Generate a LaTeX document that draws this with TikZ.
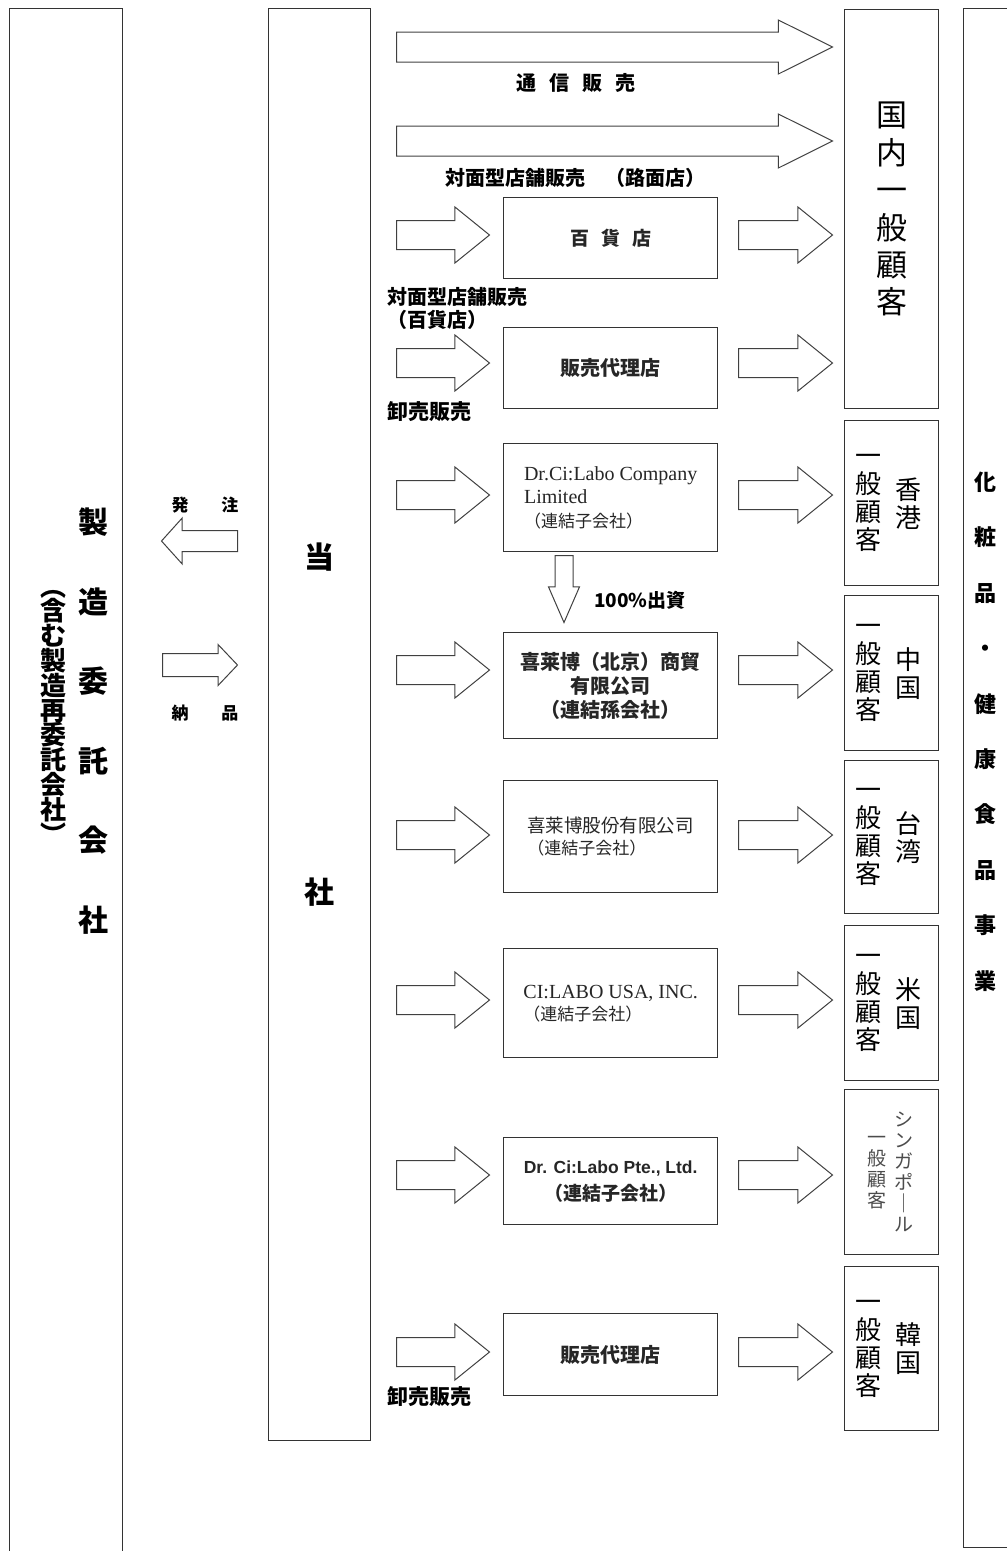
\documentclass[tikz,border=0pt]{standalone}
\usepackage{fontspec}
\setmainfont{Liberation Serif}
\setsansfont{Liberation Sans}
\newfontfamily\cjk{Noto Sans CJK JP}
\usetikzlibrary{shapes.arrows}

\tikzset{
  frame/.style={draw=black!80, line width=1.4pt, inner sep=0pt, anchor=north west},
  mbox/.style={frame, minimum width=214pt, text=black!85},
  cbox/.style={frame, minimum width=94pt},
  barrow/.style={single arrow, draw=black!75, line width=1pt, inner xsep=0pt, inner ysep=14pt,
    anchor=tail, minimum height=93pt, minimum width=55pt, single arrow head extend=13.5pt,
    single arrow tip angle=78},
  longarrow/.style={barrow, minimum height=436pt, minimum width=53pt, inner ysep=14.5pt,
    single arrow head extend=12pt, single arrow tip angle=53},
  lbl/.style={font=\cjk\bfseries\fontsize{20}{23}\selectfont, inner sep=0pt},
  vcol/.style={font=\cjk\fontsize{26}{28}\selectfont, align=center, inner sep=0pt},
  scol/.style={font=\cjk\fontsize{19}{21}\selectfont, align=center, inner sep=0pt, text=black!70},
  bigv/.style={font=\cjk\bfseries\fontsize{30}{79.6}\selectfont, align=center, inner sep=0pt},
}

\begin{document}
\begin{tikzpicture}[x=1pt, y=-1pt]
  \useasboundingbox (0,0) rectangle (1007,1551);
  \clip (0,0) rectangle (1007,1551);

  % outer columns
  \node[frame, minimum width=113pt, minimum height=1552pt] (maker) at (9,8) {};
  \node[frame, minimum width=102pt, minimum height=1432pt,
        font=\cjk\bfseries\fontsize{30}{335}\selectfont, align=center] (tosha) at (268,8) {当\\社};
  \node[frame, minimum width=52pt, minimum height=1539pt] (biz) at (963,8) {};

  % maker texts
  \node[bigv] (makername) at (93,721) {製\\造\\委\\託\\会\\社};
  \node[bigv, font=\cjk\bfseries\fontsize{26}{24.8}\selectfont] (makersub) at (53,717)
    {︵\\含\\む\\製\\造\\再\\委\\託\\会\\社\\︶};
  \node[bigv, font=\cjk\bfseries\fontsize{22}{55.4}\selectfont] (bizname) at (985,731.5)
    {化\\粧\\品\\・\\健\\康\\食\\品\\事\\業};

  % order / delivery
  \node[barrow, rotate=180, minimum height=76pt, minimum width=45pt, inner ysep=10pt,
        single arrow head extend=12.5pt, single arrow tip angle=96] (order) at (238,541) {};
  \node[barrow, minimum height=75pt, minimum width=40pt, inner ysep=11pt,
        single arrow head extend=9pt, single arrow tip angle=93] (deliver) at (162,665) {};
  \node[lbl, font=\cjk\bfseries\fontsize{17}{20}\selectfont] (orderlbl) at (205,505) {発\hspace{33pt}注};
  \node[lbl, font=\cjk\bfseries\fontsize{17}{20}\selectfont] (deliverlbl) at (205,713) {納\hspace{33pt}品};

  % customers
  \node[cbox, minimum height=399pt, font=\cjk\fontsize{31}{37.4}\selectfont, align=center] (dom) at (844,9)
    {国\\内\\一\\般\\顧\\客};
  \node[cbox, minimum height=165pt] (hk) at (844,420) {};
  \node[cbox, minimum height=155pt] (cn) at (844,595) {};
  \node[cbox, minimum height=153pt] (tw) at (844,760) {};
  \node[cbox, minimum height=155pt] (us) at (844,925) {};
  \node[cbox, minimum height=165pt] (sg) at (844,1089) {};
  \node[cbox, minimum height=164pt] (kr) at (844,1266) {};

  \foreach \n/\cc in {hk/香\\港, cn/中\\国, tw/台\\湾, us/米\\国, kr/韓\\国}{
    \node[vcol] (\n gen) at ([xshift=-23pt]\n.center) {一\\般\\顧\\客};
    \node[vcol] (\n name) at ([xshift=17pt]\n.center) {\cc};
  }
  \node[scol] (sggen) at ([xshift=-15pt]sg.center) {一\\般\\顧\\客};
  \node[scol] (sgname) at ([xshift=12pt]sg.center) {シ\\ン\\ガ\\ポ\\｜\\ル};

  % sales routes
  \node[mbox, minimum height=81pt, font=\cjk\bfseries\fontsize{19}{22}\selectfont] (depart) at (503,197)
    {百\hspace{12pt}貨\hspace{12pt}店};
  \node[mbox, minimum height=81pt, font=\cjk\bfseries\fontsize{20}{23}\selectfont] (agent) at (503,327)
    {販売代理店};
  \node[mbox, minimum height=108pt, font=\fontsize{20}{23.5}\selectfont, align=left] (hklab) at (503,443)
    {Dr.Ci:Labo Company\\Limited\\{\cjk\fontsize{17}{23.5}\selectfont （連結子会社）}};
  \node[mbox, minimum height=106pt, font=\cjk\bfseries\fontsize{20}{24}\selectfont, align=center] (bjlab) at (503,632)
    {喜莱博（北京）商貿\\有限公司\\（連結孫会社）};
  \node[mbox, minimum height=112pt, font=\cjk\fontsize{18.5}{22}\selectfont, align=left] (twlab) at (503,780)
    {喜莱博股份有限公司\\{\fontsize{17}{22}\selectfont （連結子会社）}};
  \node[mbox, minimum height=109pt, font=\fontsize{20}{22}\selectfont, align=left] (uslab) at (503,948)
    {CI:LABO USA, INC.\\{\cjk\fontsize{17}{22}\selectfont （連結子会社）}};
  \node[mbox, minimum height=87pt, font=\sffamily\bfseries\fontsize{17.5}{27}\selectfont, align=center] (sglab) at (503,1137)
    {Dr. Ci:Labo Pte., Ltd.\\{\cjk\bfseries\fontsize{19}{27}\selectfont （連結子会社）}};
  \node[mbox, minimum height=82pt, font=\cjk\bfseries\fontsize{20}{23}\selectfont] (agentkr) at (503,1313)
    {販売代理店};

  % block arrows
  \node[longarrow] (mail) at (396,47) {};
  \node[longarrow] (street) at (396,141) {};
  \foreach \y [count=\i] in {235,363,495,670,835,1000,1175,1352}{
    \node[barrow] (in\i) at (396,\y) {};
    \node[barrow, minimum height=94pt] (out\i) at (738,\y) {};
  }
  \node[barrow, rotate=-90, minimum height=67pt, minimum width=30pt, inner ysep=8.5pt,
        single arrow head extend=6.5pt, single arrow tip angle=47] (invest) at (564,555) {};

  % labels
  \node[lbl] (maillbl) at (576,83) {通\hspace{13pt}信\hspace{13pt}販\hspace{13pt}売};
  \node[lbl] (streetlbl) at (575,178) {対面型店舗販売　（路面店）};
  \node[lbl, anchor=west, align=left] (departlbl) at (387,308.5) {対面型店舗販売\\（百貨店）};
  \node[lbl, anchor=west, font=\cjk\bfseries\fontsize{21}{23}\selectfont] (agentlbl) at (387,412) {卸売販売};
  \node[lbl, anchor=west, font=\cjk\bfseries\fontsize{21}{23}\selectfont] (agentkrlbl) at (387,1397) {卸売販売};
  \node[lbl, font=\cjk\bfseries\fontsize{19}{22}\selectfont] (investlbl) at (640,600) {100\%出資};
\end{tikzpicture}
\end{document}
